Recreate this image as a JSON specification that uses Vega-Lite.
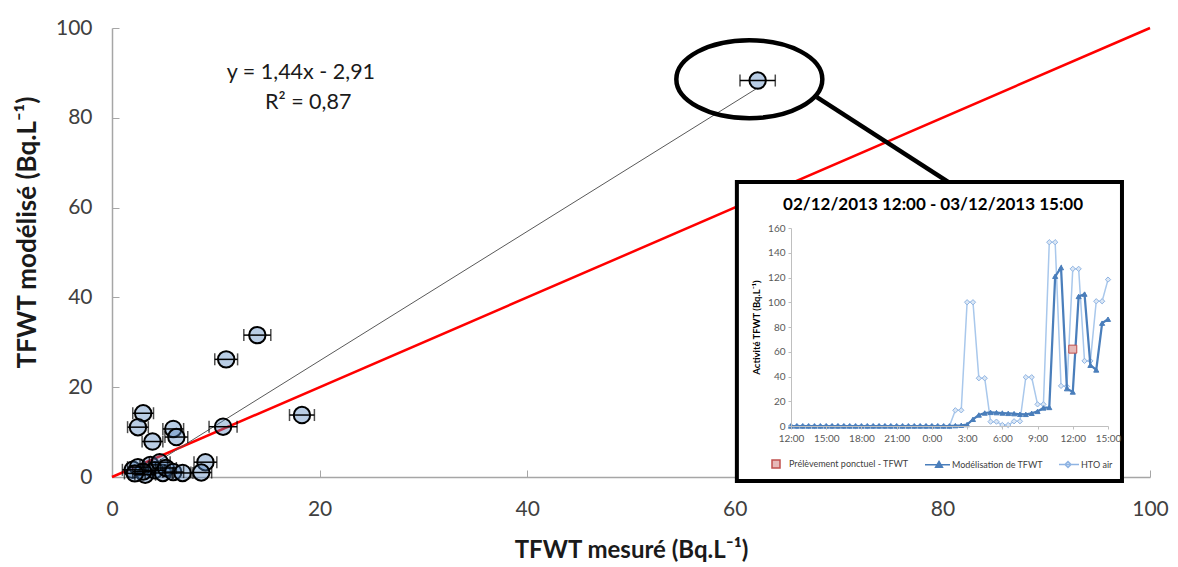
{
  "$schema": "https://vega.github.io/schema/vega-lite/v6.json",
  "width": 1038,
  "height": 449,
  "autosize": "none",
  "padding": {"left": 112, "top": 28, "right": 28, "bottom": 90},
  "config": {"view": {"stroke": null}, "font": "Lato", "axis": {"grid": false}},
  "datasets": {
    "pts": [
      {"x": 62.2, "y": 88.3, "err": 1.7},
      {"x": 14.0, "y": 31.6, "err": 1.3},
      {"x": 11.0, "y": 26.2, "err": 1.1},
      {"x": 18.3, "y": 13.8, "err": 1.2},
      {"x": 10.7, "y": 11.2, "err": 1.35},
      {"x": 3.0, "y": 14.2, "err": 1.0},
      {"x": 2.5, "y": 11.1, "err": 1.0},
      {"x": 5.9, "y": 10.7, "err": 1.0},
      {"x": 6.2, "y": 8.9, "err": 1.1},
      {"x": 3.9, "y": 7.9, "err": 1.0},
      {"x": 9.0, "y": 3.3, "err": 1.1},
      {"x": 8.6, "y": 1.0, "err": 1.0},
      {"x": 2.0, "y": 1.6, "err": 1.0},
      {"x": 2.5, "y": 2.2, "err": 1.0},
      {"x": 3.2, "y": 0.5, "err": 1.0},
      {"x": 3.7, "y": 2.7, "err": 1.0},
      {"x": 4.1, "y": 1.5, "err": 1.0},
      {"x": 4.6, "y": 3.3, "err": 1.0},
      {"x": 4.9, "y": 0.9, "err": 1.0},
      {"x": 5.2, "y": 2.0, "err": 1.0},
      {"x": 5.9, "y": 1.1, "err": 1.0},
      {"x": 6.8, "y": 0.9, "err": 1.0},
      {"x": 3.0, "y": 1.2, "err": 1.0},
      {"x": 2.2, "y": 0.8, "err": 1.0}
    ],
    "identity": [{"x": 0, "y": 0}, {"x": 100, "y": 100}],
    "trend": [{"x": 2.02, "y": 0}, {"x": 62.2, "y": 86.66}],
    "equation": [
      {"x": 18.2, "y": 90.0, "text": "y = 1,44x - 2,91"},
      {"x": 18.9, "y": 83.3, "text": "R² = 0,87"}
    ],
    "ellipse": [{"x": 61.4, "y": 88.6}],
    "connector": [{"x": 67.9, "y": 84.6, "x2": 80.7, "y2": 65.5}],
    "box": [{"x": 60.2, "y": 65.7, "x2": 97.3, "y2": -0.9}],
    "insetTitle": [{"x": 79.1, "y": 60.6, "text": "02/12/2013 12:00 - 03/12/2013 15:00"}],
    "ts": [
      {"t": "2013-12-02T12:00:00", "HTO air": 0, "Modélisation de TFWT": 0},
      {"t": "2013-12-02T12:30:00", "HTO air": 0, "Modélisation de TFWT": 0},
      {"t": "2013-12-02T13:00:00", "HTO air": 0, "Modélisation de TFWT": 0},
      {"t": "2013-12-02T13:30:00", "HTO air": 0, "Modélisation de TFWT": 0},
      {"t": "2013-12-02T14:00:00", "HTO air": 0, "Modélisation de TFWT": 0},
      {"t": "2013-12-02T14:30:00", "HTO air": 0, "Modélisation de TFWT": 0},
      {"t": "2013-12-02T15:00:00", "HTO air": 0, "Modélisation de TFWT": 0},
      {"t": "2013-12-02T15:30:00", "HTO air": 0, "Modélisation de TFWT": 0},
      {"t": "2013-12-02T16:00:00", "HTO air": 0, "Modélisation de TFWT": 0},
      {"t": "2013-12-02T16:30:00", "HTO air": 0, "Modélisation de TFWT": 0},
      {"t": "2013-12-02T17:00:00", "HTO air": 0, "Modélisation de TFWT": 0},
      {"t": "2013-12-02T17:30:00", "HTO air": 0, "Modélisation de TFWT": 0},
      {"t": "2013-12-02T18:00:00", "HTO air": 0, "Modélisation de TFWT": 0},
      {"t": "2013-12-02T18:30:00", "HTO air": 0, "Modélisation de TFWT": 0},
      {"t": "2013-12-02T19:00:00", "HTO air": 0, "Modélisation de TFWT": 0},
      {"t": "2013-12-02T19:30:00", "HTO air": 0, "Modélisation de TFWT": 0},
      {"t": "2013-12-02T20:00:00", "HTO air": 0, "Modélisation de TFWT": 0},
      {"t": "2013-12-02T20:30:00", "HTO air": 0, "Modélisation de TFWT": 0},
      {"t": "2013-12-02T21:00:00", "HTO air": 0, "Modélisation de TFWT": 0},
      {"t": "2013-12-02T21:30:00", "HTO air": 0, "Modélisation de TFWT": 0},
      {"t": "2013-12-02T22:00:00", "HTO air": 0, "Modélisation de TFWT": 0},
      {"t": "2013-12-02T22:30:00", "HTO air": 0, "Modélisation de TFWT": 0},
      {"t": "2013-12-02T23:00:00", "HTO air": 0, "Modélisation de TFWT": 0},
      {"t": "2013-12-02T23:30:00", "HTO air": 0, "Modélisation de TFWT": 0},
      {"t": "2013-12-03T00:00:00", "HTO air": 0, "Modélisation de TFWT": 0},
      {"t": "2013-12-03T00:30:00", "HTO air": 0, "Modélisation de TFWT": 0},
      {"t": "2013-12-03T01:00:00", "HTO air": 0, "Modélisation de TFWT": 0},
      {"t": "2013-12-03T01:30:00", "HTO air": 0, "Modélisation de TFWT": 0},
      {"t": "2013-12-03T02:00:00", "HTO air": 12.7, "Modélisation de TFWT": 0.3},
      {"t": "2013-12-03T02:30:00", "HTO air": 12.7, "Modélisation de TFWT": 0.6},
      {"t": "2013-12-03T03:00:00", "HTO air": 100, "Modélisation de TFWT": 1.2},
      {"t": "2013-12-03T03:30:00", "HTO air": 100, "Modélisation de TFWT": 5.4},
      {"t": "2013-12-03T04:00:00", "HTO air": 38.6, "Modélisation de TFWT": 8.9},
      {"t": "2013-12-03T04:30:00", "HTO air": 38.6, "Modélisation de TFWT": 10.5},
      {"t": "2013-12-03T05:00:00", "HTO air": 3.5, "Modélisation de TFWT": 11.0},
      {"t": "2013-12-03T05:30:00", "HTO air": 3.5, "Modélisation de TFWT": 10.8},
      {"t": "2013-12-03T06:00:00", "HTO air": 0.8, "Modélisation de TFWT": 10.5},
      {"t": "2013-12-03T06:30:00", "HTO air": 0.8, "Modélisation de TFWT": 10.2},
      {"t": "2013-12-03T07:00:00", "HTO air": 3.8, "Modélisation de TFWT": 10.0},
      {"t": "2013-12-03T07:30:00", "HTO air": 3.8, "Modélisation de TFWT": 9.5},
      {"t": "2013-12-03T08:00:00", "HTO air": 39.4, "Modélisation de TFWT": 9.4},
      {"t": "2013-12-03T08:30:00", "HTO air": 39.4, "Modélisation de TFWT": 10.3},
      {"t": "2013-12-03T09:00:00", "HTO air": 17.5, "Modélisation de TFWT": 11.8},
      {"t": "2013-12-03T09:30:00", "HTO air": 17.5, "Modélisation de TFWT": 14.6},
      {"t": "2013-12-03T10:00:00", "HTO air": 148.5, "Modélisation de TFWT": 15.0},
      {"t": "2013-12-03T10:30:00", "HTO air": 148.5, "Modélisation de TFWT": 121.0},
      {"t": "2013-12-03T11:00:00", "HTO air": 32.4, "Modélisation de TFWT": 128.0},
      {"t": "2013-12-03T11:30:00", "HTO air": 32.0, "Modélisation de TFWT": 30.2},
      {"t": "2013-12-03T12:00:00", "HTO air": 127.0, "Modélisation de TFWT": 27.5},
      {"t": "2013-12-03T12:30:00", "HTO air": 127.0, "Modélisation de TFWT": 104.7},
      {"t": "2013-12-03T13:00:00", "HTO air": 52.6, "Modélisation de TFWT": 106.6},
      {"t": "2013-12-03T13:30:00", "HTO air": 52.6, "Modélisation de TFWT": 49.1},
      {"t": "2013-12-03T14:00:00", "HTO air": 100.8, "Modélisation de TFWT": 45.3},
      {"t": "2013-12-03T14:30:00", "HTO air": 100.8, "Modélisation de TFWT": 83.1},
      {"t": "2013-12-03T15:00:00", "HTO air": 118.3, "Modélisation de TFWT": 86.3}
    ],
    "sample": [{"t": "2013-12-03T12:00:00", "series": "Prélèvement ponctuel - TFWT", "value": 62.1}]
  },
  "layer": [
    {
      "encoding": {
        "x": {
          "field": "x", "type": "quantitative",
          "scale": {"domain": [0, 100], "nice": false},
          "axis": {
            "orient": "bottom", "title": "TFWT mesuré (Bq.L⁻¹)", "values": [0, 20, 40, 60, 80, 100],
            "tickSize": -7, "labelPadding": 28, "labelFlush": false, "grid": false,
            "domainColor": "#a6a6a6", "tickColor": "#a6a6a6", "domainWidth": 1.5,
            "labelFontSize": 21, "labelColor": "#404040",
            "titleFontSize": 24, "titleFontWeight": "bold", "titleColor": "#1a1a1a", "titlePadding": 19
          }
        },
        "y": {
          "field": "y", "type": "quantitative",
          "scale": {"domain": [0, 100], "nice": false},
          "axis": {
            "orient": "left", "title": "TFWT modélisé (Bq.L⁻¹)", "values": [0, 20, 40, 60, 80, 100],
            "tickSize": -7, "labelPadding": 27, "grid": false,
            "domainColor": "#a6a6a6", "tickColor": "#a6a6a6", "domainWidth": 1.5,
            "labelFontSize": 21, "labelColor": "#404040",
            "titleFontSize": 26, "titleFontWeight": "bold", "titleColor": "#1a1a1a", "titlePadding": 15, "titleY": 204
          }
        }
      },
      "layer": [
        {"data": {"name": "identity"}, "mark": {"type": "line", "color": "#ff0000", "strokeWidth": 2.5}},
        {"data": {"name": "trend"}, "mark": {"type": "line", "color": "#595959", "strokeWidth": 1}},
        {"data": {"name": "pts"}, "mark": {"type": "point", "filled": true, "fill": "#4f81bd", "fillOpacity": 0.4, "stroke": "#000000", "strokeWidth": 2, "strokeOpacity": 1, "size": 270, "opacity": 1}},
        {"data": {"name": "pts"}, "mark": {"type": "errorbar", "ticks": {"size": 12, "thickness": 1.5, "color": "#000000"}, "thickness": 1.5, "color": "#000000"}, "encoding": {"xError": {"field": "err"}}},
        {"data": {"name": "equation"}, "mark": {"type": "text", "fontSize": 21.5, "color": "#1a1a1a", "align": "center", "baseline": "middle"}, "encoding": {"text": {"field": "text"}}},
        {"data": {"name": "ellipse"}, "mark": {"type": "point", "shape": "M -1 0 C -1 -0.295 -0.552 -0.534 0 -0.534 C 0.552 -0.534 1 -0.295 1 0 C 1 0.295 0.552 0.534 0 0.534 C -0.552 0.534 -1 0.295 -1 0 Z", "size": 21316, "filled": false, "stroke": "#000000", "strokeWidth": 4.5, "opacity": 1}},
        {"data": {"name": "connector"}, "mark": {"type": "rule", "color": "#000000", "strokeWidth": 4.5}, "encoding": {"x2": {"field": "x2"}, "y2": {"field": "y2"}}},
        {"data": {"name": "box"}, "mark": {"type": "rect", "fill": "#ffffff", "stroke": "#000000", "strokeWidth": 4}, "encoding": {"x2": {"field": "x2"}, "y2": {"field": "y2"}}},
        {"data": {"name": "insetTitle"}, "mark": {"type": "text", "fontSize": 17, "fontWeight": "bold", "color": "#000000", "align": "center", "baseline": "middle"}, "encoding": {"text": {"field": "text"}}}
      ]
    },
    {
      "encoding": {
        "x": {
          "field": "t", "type": "temporal",
          "scale": {"domain": [{"year": 2013, "month": 12, "date": 2, "hours": 12}, {"year": 2013, "month": 12, "date": 3, "hours": 15}], "range": [679, 996]},
          "axis": {
            "orient": "bottom", "offset": -51, "zindex": 1, "title": null, "format": "%-H:%M",
            "values": [
              {"year": 2013, "month": 12, "date": 2, "hours": 12},
              {"year": 2013, "month": 12, "date": 2, "hours": 15},
              {"year": 2013, "month": 12, "date": 2, "hours": 18},
              {"year": 2013, "month": 12, "date": 2, "hours": 21},
              {"year": 2013, "month": 12, "date": 3, "hours": 0},
              {"year": 2013, "month": 12, "date": 3, "hours": 3},
              {"year": 2013, "month": 12, "date": 3, "hours": 6},
              {"year": 2013, "month": 12, "date": 3, "hours": 9},
              {"year": 2013, "month": 12, "date": 3, "hours": 12},
              {"year": 2013, "month": 12, "date": 3, "hours": 15}
            ],
            "labelFontSize": 10, "labelColor": "#595959", "labelPadding": 4, "tickSize": 3,
            "domainColor": "#bfbfbf", "tickColor": "#bfbfbf", "labelFlush": false, "labelOverlap": false, "grid": false
          }
        },
        "y": {
          "field": "value", "type": "quantitative",
          "scale": {"domain": [0, 160], "range": [398, 200], "nice": false},
          "axis": {
            "orient": "left", "offset": -679, "zindex": 1, "title": "Activité TFWT (Bq.L⁻¹)",
            "titleFontSize": 9.5, "titleFontWeight": "bold", "titleColor": "#000000", "titlePadding": 6,
            "values": [0, 20, 40, 60, 80, 100, 120, 140, 160],
            "labelFontSize": 10, "labelColor": "#595959", "labelPadding": 3, "tickSize": 3,
            "domainColor": "#bfbfbf", "tickColor": "#bfbfbf", "grid": false
          }
        }
      },
      "layer": [
        {"data": {"name": "ts"}, "transform": [{"fold": ["HTO air"], "as": ["series", "value"]}], "mark": {"type": "line", "color": "#a9c8ec", "strokeWidth": 1.5}},
        {"data": {"name": "ts"}, "transform": [{"fold": ["HTO air"], "as": ["series", "value"]}],
         "mark": {"type": "point", "filled": true, "shape": "diamond", "strokeWidth": 1, "size": 28, "opacity": 1},
         "encoding": {
           "fill": {"field": "series", "type": "nominal",
             "scale": {"domain": ["Prélèvement ponctuel - TFWT", "Modélisation de TFWT", "HTO air"], "range": ["#e6b9b8", "#4a7ebb", "#dbe7f5"]},
             "legend": {
               "orient": "none", "legendX": 659, "legendY": 431, "direction": "horizontal", "title": null,
               "labelFontSize": 9, "labelColor": "#404040", "symbolSize": 64, "labelOffset": 8, "columnPadding": 13,
               "symbolStrokeWidth": 1.5, "symbolOpacity": 1,
               "symbolType": {"expr": "datum.value === 'Modélisation de TFWT' ? 'M -3.5 0 L 2.75 0 M 0 -0.85 L 0.85 0.6 L -0.85 0.6 Z' : datum.value === 'HTO air' ? 'M -2.25 0 L 2.75 0 M 0 -0.75 L 0.75 0 L 0 0.75 L -0.75 0 Z' : 'square'"}
             }},
           "stroke": {"field": "series", "type": "nominal",
             "scale": {"domain": ["Prélèvement ponctuel - TFWT", "Modélisation de TFWT", "HTO air"], "range": ["#c0504d", "#4a7ebb", "#8fb4e3"]},
             "legend": {
               "orient": "none", "legendX": 659, "legendY": 431, "direction": "horizontal", "title": null,
               "labelFontSize": 9, "labelColor": "#404040", "symbolSize": 64, "labelOffset": 8, "columnPadding": 13,
               "symbolStrokeWidth": 1.5, "symbolOpacity": 1,
               "symbolType": {"expr": "datum.value === 'Modélisation de TFWT' ? 'M -3.5 0 L 2.75 0 M 0 -0.85 L 0.85 0.6 L -0.85 0.6 Z' : datum.value === 'HTO air' ? 'M -2.25 0 L 2.75 0 M 0 -0.75 L 0.75 0 L 0 0.75 L -0.75 0 Z' : 'square'"}
             }}
         }},
        {"data": {"name": "ts"}, "transform": [{"fold": ["Modélisation de TFWT"], "as": ["series", "value"]}], "mark": {"type": "line", "color": "#4a7ebb", "strokeWidth": 2.25}},
        {"data": {"name": "ts"}, "transform": [{"fold": ["Modélisation de TFWT"], "as": ["series", "value"]}],
         "mark": {"type": "point", "filled": true, "shape": "triangle-up", "strokeWidth": 1, "size": 26, "opacity": 1},
         "encoding": {"fill": {"field": "series", "type": "nominal"}, "stroke": {"field": "series", "type": "nominal"}}},
        {"data": {"name": "sample"},
         "mark": {"type": "point", "filled": true, "shape": "square", "strokeWidth": 1, "size": 64, "opacity": 1},
         "encoding": {"fill": {"field": "series", "type": "nominal"}, "stroke": {"field": "series", "type": "nominal"}}}
      ]
    }
  ],
  "resolve": {"scale": {"x": "independent", "y": "independent"}, "axis": {"x": "independent", "y": "independent"}}
}
